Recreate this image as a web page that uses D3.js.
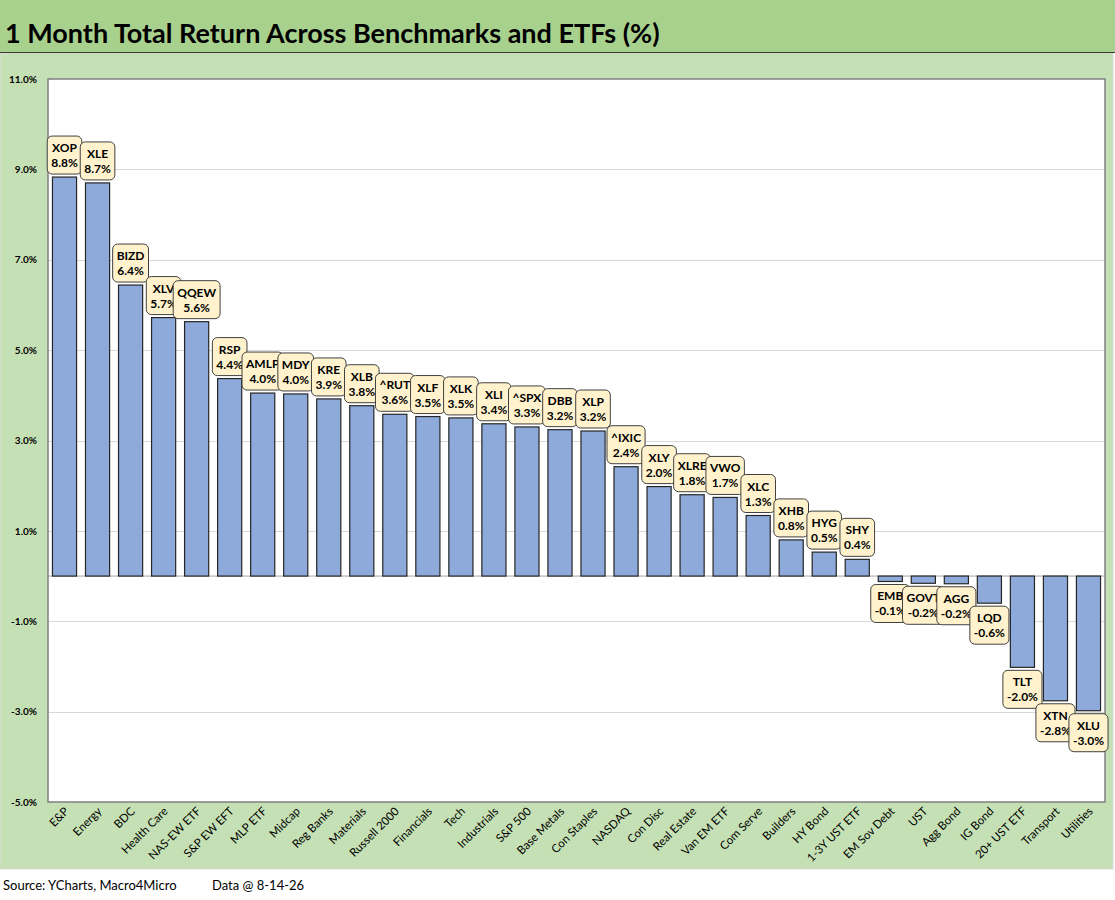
<!DOCTYPE html>
<html>
<head>
<meta charset="utf-8">
<script src="https://cdn.jsdelivr.net/npm/d3@7"></script>
<style>
  body { margin: 0; background: #ffffff; }
  svg text { font-family: Lato, "Open Sans", sans-serif; }
</style>
</head>
<body>
<div id="wrapper"></div>
<script>
// chart data
const categories = ["E&P", "Energy", "BDC", "Health Care", "NAS-EW ETF", "S&P EW EFT", "MLP ETF", "Midcap",
  "Reg Banks", "Materials", "Russell 2000", "Financials", "Tech", "Industrials", "S&P 500", "Base Metals",
  "Con Staples", "NASDAQ", "Con Disc", "Real Estate", "Van EM ETF", "Com Serve", "Builders", "HY Bond",
  "1-3Y UST ETF", "EM Sov Debt", "UST", "Agg Bond", "IG Bond", "20+ UST ETF", "Transport", "Utilities"];
const tickers = ["XOP", "XLE", "BIZD", "XLV", "QQEW", "RSP", "AMLP", "MDY", "KRE", "XLB", "^RUT", "XLF", "XLK",
  "XLI", "^SPX", "DBB", "XLP", "^IXIC", "XLY", "XLRE", "VWO", "XLC", "XHB", "HYG", "SHY", "EMB", "GOVT",
  "AGG", "LQD", "TLT", "XTN", "XLU"];
const returns = [8.83, 8.70, 6.44, 5.72, 5.63, 4.37, 4.05, 4.03, 3.92, 3.77, 3.58, 3.53, 3.50, 3.37, 3.30,
  3.24, 3.21, 2.42, 1.98, 1.80, 1.74, 1.34, 0.80, 0.53, 0.37, -0.12, -0.16, -0.17, -0.60, -2.02, -2.76, -2.98];
const yTicks = [-5, -3, -1, 1, 3, 5, 7, 9, 11];

const titleText = "1 Month Total Return Across Benchmarks and ETFs (%)";
const sourceText = "Source: YCharts, Macro4Micro";
const dateText = "Data @ 8-14-26";

const dataset = categories.map((c, i) => ({ category: c, ticker: tickers[i], value: returns[i] }));
const formatPct = (d) => d3.format(".1f")(d).replace("\u2212", "-") + "%";

// dimensions
const dimensions = {
  width: 1115,
  height: 900,
  margin: { top: 79, right: 10, bottom: 98, left: 48 },
};
dimensions.boundedWidth = 1105 - dimensions.margin.left;
dimensions.boundedHeight = 802 - dimensions.margin.top;

const svg = d3.select("#wrapper")
  .append("svg")
  .attr("width", dimensions.width)
  .attr("height", dimensions.height);

// backgrounds
svg.append("rect").attr("x", 0).attr("y", 53).attr("width", 1113).attr("height", 816)
  .attr("fill", "#c5e0b4").attr("stroke", "#d9d9d9");
svg.append("rect").attr("x", 0).attr("y", 0).attr("width", 1115).attr("height", 52)
  .attr("fill", "#a9d18e");
svg.append("line").attr("x1", 0).attr("x2", 1115).attr("y1", 52.5).attr("y2", 52.5)
  .attr("stroke", "#3a3a3a").attr("stroke-width", 1);

svg.append("text")
  .attr("x", 5).attr("y", 43)
  .attr("font-size", 27).attr("font-weight", "bold").attr("fill", "#000")
  .text(titleText);

const bounds = svg.append("g")
  .attr("transform", `translate(${dimensions.margin.left},${dimensions.margin.top})`);

bounds.append("rect")
  .attr("width", dimensions.boundedWidth).attr("height", dimensions.boundedHeight)
  .attr("fill", "#ffffff");

// scales
const xScale = d3.scaleBand()
  .domain(categories)
  .range([0, dimensions.boundedWidth])
  .paddingInner(0.27)
  .paddingOuter(0.135);

const yScale = d3.scaleLinear()
  .domain([-5, 11])
  .range([dimensions.boundedHeight, 0]);

// gridlines
bounds.append("g")
  .selectAll("line")
  .data(yTicks.filter((d) => d > -5 && d < 11))
  .join("line")
  .attr("x1", 0).attr("x2", dimensions.boundedWidth)
  .attr("y1", (d) => Math.round(yScale(d)) + 0.5)
  .attr("y2", (d) => Math.round(yScale(d)) + 0.5)
  .attr("stroke", "#d9d9d9");

// zero line
bounds.append("line")
  .attr("x1", 0).attr("x2", dimensions.boundedWidth)
  .attr("y1", yScale(0)).attr("y2", yScale(0))
  .attr("stroke", "#a6a6a6").attr("stroke-width", 1);

// bars
bounds.append("g")
  .selectAll("rect")
  .data(dataset)
  .join("rect")
  .attr("x", (d) => xScale(d.category))
  .attr("width", xScale.bandwidth())
  .attr("y", (d) => yScale(Math.max(0, d.value)))
  .attr("height", (d) => Math.abs(yScale(d.value) - yScale(0)))
  .attr("fill", "#8eaadb")
  .attr("stroke", "#262626")
  .attr("stroke-width", 1.2);

// plot border
bounds.append("rect")
  .attr("width", dimensions.boundedWidth).attr("height", dimensions.boundedHeight)
  .attr("fill", "none").attr("stroke", "#7f7f7f").attr("stroke-width", 1.5);

// y axis
const yAxis = bounds.append("g")
  .call(d3.axisLeft(yScale).tickValues(yTicks).tickSize(0).tickPadding(11)
    .tickFormat(formatPct));
yAxis.select(".domain").remove();
yAxis.selectAll("text")
  .attr("font-size", 10).attr("font-weight", "bold").attr("fill", "#000")
  .attr("font-family", "Lato, sans-serif");

// x axis labels
const xAxis = bounds.append("g")
  .attr("transform", `translate(0,${dimensions.boundedHeight})`)
  .call(d3.axisBottom(xScale).tickSize(0).tickPadding(0));
xAxis.select(".domain").remove();
xAxis.selectAll("text")
  .attr("font-size", 11.5).attr("fill", "#000")
  .attr("font-family", "Lato, sans-serif")
  .attr("text-anchor", "end")
  .attr("dy", 0)
  .attr("transform", "translate(5,10) rotate(-45)");

// data labels
const labels = bounds.append("g")
  .selectAll("g")
  .data(dataset)
  .join("g");

const boxHeight = 38;
labels.each(function (d) {
  const g = d3.select(this);
  const cx = xScale(d.category) + xScale.bandwidth() / 2;
  const top = d.value >= 0 ? yScale(d.value) - 3 - boxHeight : yScale(d.value) + 3;
  const rect = g.append("rect");
  const t1 = g.append("text")
    .attr("x", cx).attr("y", top + 16)
    .attr("text-anchor", "middle").attr("font-size", 12).attr("font-weight", "bold")
    .text(d.ticker);
  const t2 = g.append("text")
    .attr("x", cx).attr("y", top + 31)
    .attr("text-anchor", "middle").attr("font-size", 12).attr("font-weight", "bold")
    .text(formatPct(d.value));
  const w = Math.max(t1.node().getComputedTextLength(), t2.node().getComputedTextLength()) + 8;
  rect.attr("x", cx - w / 2).attr("y", top)
    .attr("width", w).attr("height", boxHeight)
    .attr("rx", 5)
    .attr("fill", "#fff2cc").attr("stroke", "#404040").attr("stroke-width", 1);
});

// footer
svg.append("text").attr("x", 3).attr("y", 890).attr("font-size", 13).text(sourceText);
svg.append("text").attr("x", 212).attr("y", 890).attr("font-size", 13).text(dateText);
</script>
</body>
</html>
